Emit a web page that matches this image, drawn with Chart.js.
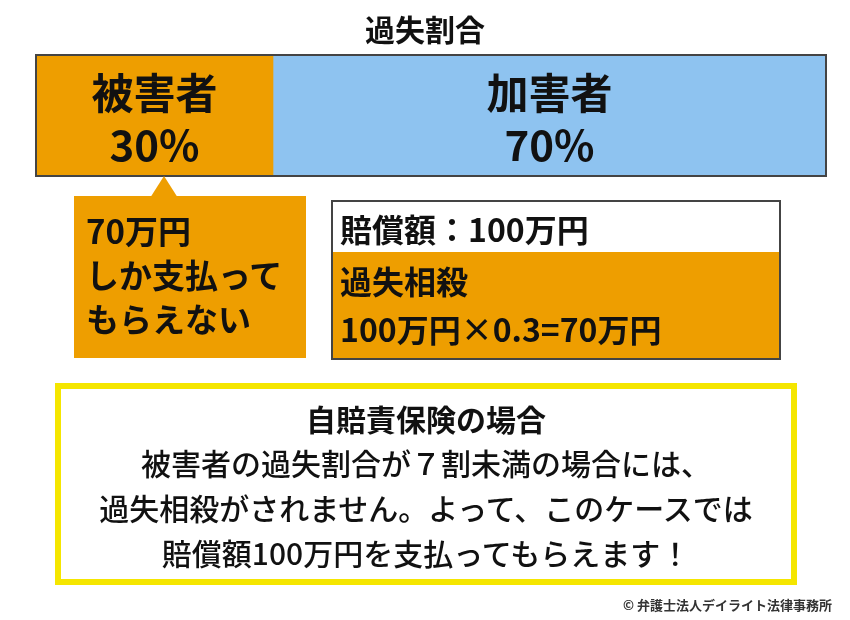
<!DOCTYPE html>
<html><head><meta charset="utf-8">
<script src="https://cdn.jsdelivr.net/npm/chart.js@4/dist/chart.umd.min.js"></script>
<style>
body{margin:0;background:#fff;font-family:"Noto Sans CJK JP","Noto Sans",sans-serif;}
#wrap{position:relative;width:850px;height:620px;}
canvas{position:absolute;left:0;top:0;}
.abs{position:absolute;color:#111;font-weight:bold;}
</style></head><body>
<div id="wrap">
<canvas id="c" width="850" height="620"></canvas>
<div class="abs" style="left:0;width:850px;top:6px;text-align:center;font-size:30px;">過失割合</div>
<div class="abs" style="left:74px;top:196px;width:232px;height:162px;background:#EE9E00;"></div>
<div style="position:absolute;left:150px;top:176px;width:0;height:0;border-left:14px solid transparent;border-right:14px solid transparent;border-bottom:22px solid #EE9E00;"></div>
<div class="abs" style="left:86px;top:208px;font-size:33px;line-height:44px;">70万円<br>しか支払って<br>もらえない</div>
<div class="abs" style="left:331px;top:200px;width:446px;height:156px;border:2px solid #444;"></div>
<div class="abs" style="left:333px;top:252px;width:446px;height:106px;background:#EE9E00;"></div>
<div class="abs" style="left:340px;top:205px;font-size:32px;">賠償額：100万円</div>
<div class="abs" style="left:340px;top:256px;font-size:32px;line-height:48px;">過失相殺<br>100万円×0.3=70万円</div>
<div class="abs" style="left:55px;top:383px;width:730px;height:190px;border:6px solid #F5E600;"></div>
<div class="abs" style="left:55px;width:742px;top:396px;text-align:center;font-size:30px;">自賠責保険の場合</div>
<div class="abs" style="left:55px;width:742px;top:440px;text-align:center;font-size:30px;line-height:45px;font-weight:500;">被害者の過失割合が７割未満の場合には、<br>過失相殺がされません。よって、このケースでは<br>賠償額100万円を支払ってもらえます！</div>
<div class="abs" style="right:18px;top:595px;font-size:13px;color:#333;">© 弁護士法人デイライト法律事務所</div>
</div>
<script>
const parties = ["被害者", "加害者"];
const shares = [30, 70];
const colors = ["#EE9E00", "#8EC3F0"];

const labelPlugin = {
  id: "labels",
  afterDatasetsDraw(chart) {
    const ctx = chart.ctx;
    const a = chart.chartArea;
    chart.data.datasets.forEach((ds, i) => {
      const bar = chart.getDatasetMeta(i).data[0];
      const cx = (bar.base + bar.x) / 2;
      ctx.save();
      ctx.fillStyle = "#111";
      ctx.textAlign = "center";
      ctx.textBaseline = "middle";
      ctx.font = "bold 42px 'Noto Sans CJK JP'";
      ctx.fillText(ds.label, cx, a.top + 38);
      ctx.fillText(ds.data[0] + "%", cx, a.top + 90);
      ctx.restore();
    });
    ctx.save();
    ctx.strokeStyle = "#444";
    ctx.lineWidth = 2;
    ctx.strokeRect(a.left, a.top, a.right - a.left, a.bottom - a.top);
    ctx.restore();
  }
};

new Chart(document.getElementById("c"), {
  type: "bar",
  data: {
    labels: ["過失割合"],
    datasets: parties.map((p, i) => ({
      label: p, data: [shares[i]], backgroundColor: colors[i],
      barPercentage: 1, categoryPercentage: 1, borderWidth: 0
    }))
  },
  options: {
    indexAxis: "y",
    responsive: false,
    animation: false,
    layout: { padding: { left: 36, right: 24, top: 55, bottom: 444 } },
    plugins: { legend: { display: false }, tooltip: { enabled: false } },
    scales: {
      x: { stacked: true, min: 0, max: 100, display: false },
      y: { stacked: true, display: false }
    }
  },
  plugins: [labelPlugin]
});
</script>
</body></html>
